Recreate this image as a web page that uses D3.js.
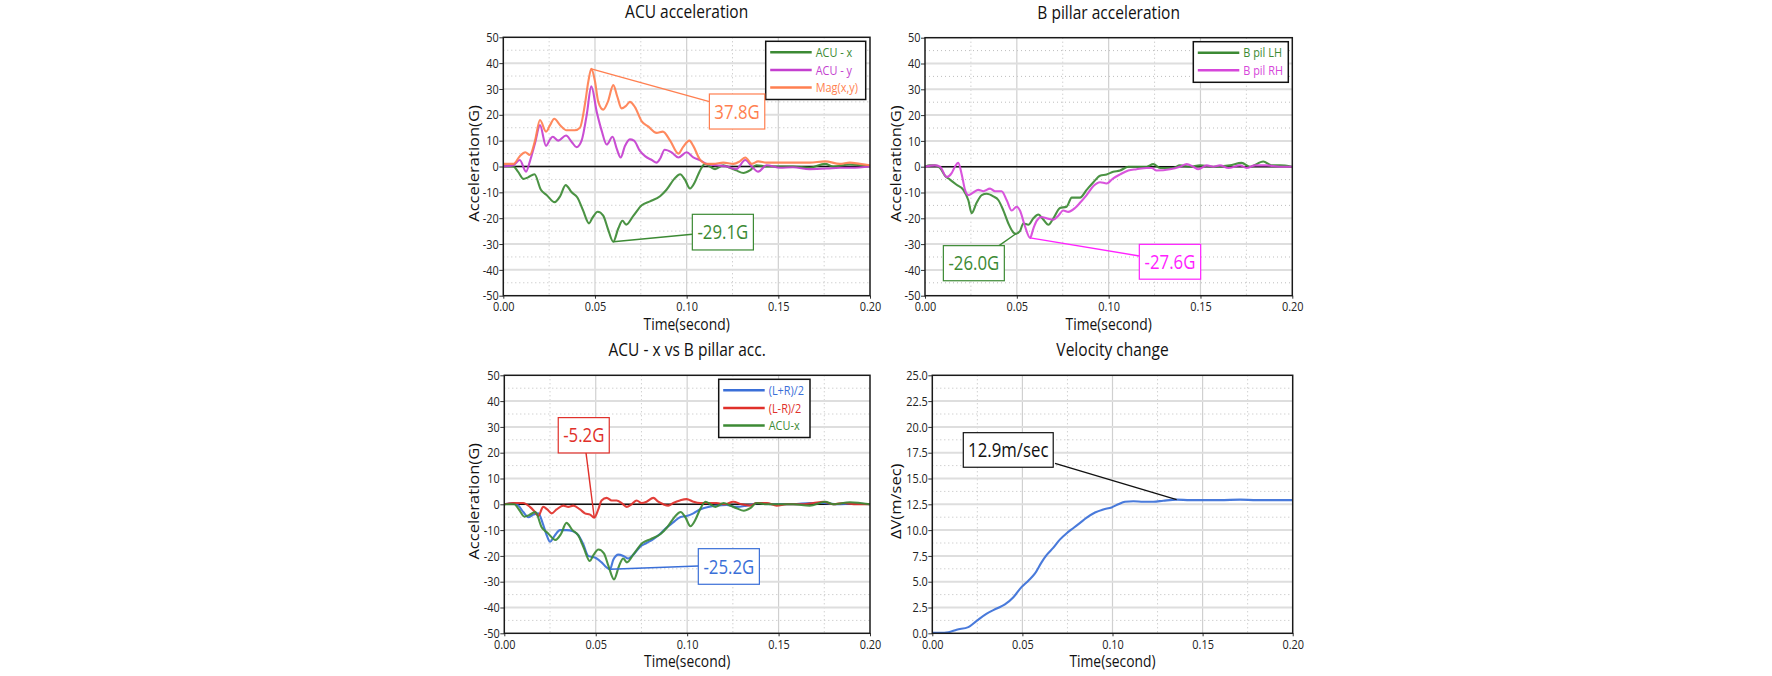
<!DOCTYPE html>
<html><head><meta charset="utf-8">
<script src="https://cdn.jsdelivr.net/npm/d3@7"></script>
<style>body{margin:0;background:#fff}svg{display:block}text{font-family:"Open Sans",sans-serif}</style>
</head><body><svg id="c" width="1772" height="676"></svg>
<script>
// ---------- data ----------
const timeTicks = [0, 0.05, 0.10, 0.15, 0.20];
const accTicks = [-50,-40,-30,-20,-10,0,10,20,30,40,50];
const dvTicks = [0,2.5,5,7.5,10,12.5,15,17.5,20,22.5,25];

const acuX = [[0,0],[0.0055,0],[0.008,-2],[0.011,-4.8],[0.0135,-4.2],[0.017,-3],[0.0205,-9],[0.0236,-11],[0.028,-13.8],[0.031,-11.5],[0.034,-7.2],[0.0373,-10],[0.0404,-12],[0.0435,-17],[0.0468,-22],[0.0485,-20],[0.0515,-17.5],[0.0545,-19],[0.057,-24],[0.060,-29.1],[0.0627,-24],[0.065,-21],[0.067,-22.5],[0.071,-19],[0.0755,-15],[0.08,-13.5],[0.0855,-11.5],[0.089,-9],[0.0936,-4.5],[0.0964,-3],[0.099,-5],[0.1018,-8.5],[0.1045,-6],[0.107,-2],[0.11,1],[0.1127,0],[0.1155,-1],[0.12,0.5],[0.1236,-0.5],[0.127,-1.5],[0.131,-2.5],[0.1345,-1.5],[0.138,0.5],[0.1436,0],[0.151,0],[0.158,0],[0.167,-0.5],[0.1755,1],[0.18,0],[0.189,0.8],[0.2,0]];
const acuY = [[0,0],[0.0055,0.5],[0.009,2.5],[0.0124,-2],[0.0145,2],[0.0173,9],[0.02,16],[0.0233,8],[0.0255,10.5],[0.027,11.5],[0.030,10],[0.0342,12],[0.0373,9.5],[0.040,7.5],[0.0427,10],[0.0455,20],[0.048,31],[0.051,21],[0.0536,14],[0.0564,8.5],[0.0596,11.5],[0.0618,7],[0.064,3.5],[0.0664,8],[0.069,10.5],[0.0713,10],[0.0745,6],[0.0773,4],[0.081,2.5],[0.0836,1.5],[0.0855,3],[0.088,6.5],[0.0918,5.5],[0.0955,3.5],[0.1,5.5],[0.1036,3.5],[0.107,2.5],[0.111,1],[0.1164,0.5],[0.122,0],[0.127,-1],[0.132,2.5],[0.1355,0],[0.139,-2],[0.1436,0.5],[0.151,-0.5],[0.158,-0.3],[0.167,-1],[0.1764,-0.8],[0.1836,-0.5],[0.19,-0.5],[0.2,0]];
const magXY = [[0,1],[0.0055,1],[0.009,4],[0.012,5.5],[0.0145,4.5],[0.0173,10],[0.02,18],[0.0233,13.5],[0.0255,16],[0.0278,18.5],[0.031,16],[0.0345,14],[0.039,14],[0.0418,15],[0.0445,24],[0.0464,33],[0.048,37.8],[0.05,33],[0.0518,25],[0.0545,22],[0.057,25],[0.06,31.5],[0.0622,27],[0.0645,22.5],[0.067,23.5],[0.069,25],[0.0718,23],[0.0755,17.5],[0.079,15.5],[0.0836,13],[0.087,13.5],[0.091,10],[0.0955,5],[0.098,7.5],[0.1015,10],[0.1036,8],[0.107,3],[0.111,1],[0.1145,1],[0.12,1.5],[0.1255,1],[0.129,2],[0.132,3.5],[0.1355,1],[0.139,2],[0.1436,1.5],[0.151,1.5],[0.158,1.5],[0.167,1.5],[0.1755,2],[0.1836,1],[0.189,1.5],[0.1945,1],[0.2,0.5]];
const bpLH = [[0,0],[0.0027,0.5],[0.0054,0.5],[0.0082,-0.5],[0.0109,-3.5],[0.0136,-5],[0.0172,-7],[0.0209,-9],[0.0236,-13],[0.0254,-18],[0.0281,-14],[0.0309,-11],[0.0336,-10.5],[0.0372,-11.5],[0.04,-13],[0.0427,-17],[0.0454,-22],[0.0481,-25.5],[0.0495,-26],[0.0517,-25],[0.0535,-22],[0.0563,-22.5],[0.059,-20],[0.0617,-18.5],[0.0644,-20.5],[0.0672,-22.5],[0.0699,-20],[0.0735,-16],[0.0771,-15.5],[0.0799,-12],[0.0844,-12],[0.088,-9],[0.0917,-6],[0.0953,-3.5],[0.0989,-3],[0.1025,-2],[0.1062,-1.5],[0.1107,0],[0.1152,0],[0.1207,0],[0.1243,1],[0.128,-0.5],[0.1352,-0.5],[0.1388,0.5],[0.1443,0],[0.1497,0.5],[0.157,0],[0.166,0.5],[0.1724,1.5],[0.177,0],[0.1842,2],[0.1887,0.5],[0.1933,0.5],[0.2,0]];
const bpRH = [[0,0],[0.0054,0.5],[0.0082,0],[0.0118,-4],[0.0145,-2.5],[0.0163,0],[0.0181,1.5],[0.02,-3],[0.0218,-9],[0.0236,-11],[0.0263,-10],[0.029,-9],[0.0318,-9.5],[0.0354,-8.5],[0.0381,-9.5],[0.0417,-9.5],[0.0445,-13],[0.0472,-17],[0.0499,-15.5],[0.0517,-17],[0.0544,-23],[0.0572,-27.6],[0.059,-24],[0.0608,-21],[0.0635,-19.5],[0.0662,-20],[0.0699,-20.5],[0.0726,-19],[0.0753,-17],[0.078,-17.5],[0.0817,-16],[0.0844,-14],[0.088,-11],[0.0917,-7.5],[0.0953,-6],[0.0989,-6.5],[0.1025,-4.5],[0.1062,-3],[0.1107,-1.5],[0.1152,-1],[0.1207,-0.5],[0.1234,-0.5],[0.1261,-1.5],[0.1334,-1],[0.1388,0],[0.1425,1],[0.1461,0],[0.1488,-1],[0.1534,0.5],[0.157,0],[0.1606,0.5],[0.1652,-0.5],[0.1715,0.5],[0.1751,-0.5],[0.1797,0.5],[0.186,0.5],[0.1933,0],[0.2,0]];
const lPlusR = [[0,0],[0.0049,0.5],[0.0077,-0.5],[0.0104,-3],[0.0131,-5],[0.0159,-4],[0.0186,-3.5],[0.0213,-8],[0.0232,-12],[0.025,-14.5],[0.0277,-12],[0.0304,-10],[0.0341,-10],[0.0377,-10.5],[0.0405,-12],[0.0432,-15.5],[0.0459,-20],[0.0487,-20.5],[0.0505,-21],[0.0532,-22.5],[0.056,-24.5],[0.0578,-25.2],[0.0596,-21.5],[0.0624,-19.5],[0.0651,-20],[0.0678,-21],[0.0706,-19.5],[0.0742,-16.5],[0.0778,-15],[0.0815,-13.5],[0.0851,-11.5],[0.0888,-9],[0.0924,-7],[0.0961,-5],[0.0997,-4.5],[0.1034,-3.5],[0.107,-2],[0.1116,-1],[0.1161,-0.5],[0.1216,-0.3],[0.1271,-1],[0.1325,-0.5],[0.1398,0.5],[0.1471,0],[0.158,0],[0.1672,0.5],[0.1745,0.5],[0.1818,0],[0.1909,0.3],[0.2,0]];
const lMinusR = [[0,0],[0.0049,0.5],[0.0104,0.5],[0.014,-1],[0.0168,-3],[0.0186,-4.5],[0.0213,-1],[0.0235,-2],[0.0259,-3.5],[0.0286,-2],[0.0323,-0.5],[0.035,-1],[0.0377,-0.5],[0.0414,-2],[0.0441,-3.5],[0.0469,-4],[0.0492,-5.2],[0.0514,-2],[0.0532,1.5],[0.056,2.5],[0.0587,1.5],[0.0614,1.5],[0.0642,0.5],[0.0669,-1],[0.0696,0],[0.0724,1.5],[0.0751,0.5],[0.0778,1],[0.0815,2.5],[0.0842,1],[0.087,0],[0.0897,-0.5],[0.0924,0.5],[0.0961,1.5],[0.0997,2],[0.1034,1],[0.107,0.5],[0.1116,0.5],[0.1161,0.5],[0.1207,0],[0.1252,1],[0.1298,0],[0.1344,-0.5],[0.138,0.5],[0.1435,0.5],[0.149,-0.5],[0.1544,0],[0.1617,0],[0.169,0.5],[0.1745,1],[0.18,0],[0.1854,0.5],[0.1927,0],[0.2,0]];
const deltaV = [[0,0.05],[0.0043,0.05],[0.0089,0.1],[0.0135,0.35],[0.02,0.6],[0.0246,1.2],[0.0302,1.9],[0.0357,2.4],[0.0403,2.8],[0.045,3.5],[0.0496,4.5],[0.0533,5.1],[0.057,5.8],[0.0607,6.9],[0.0635,7.6],[0.0672,8.3],[0.0709,9.1],[0.0746,9.7],[0.0783,10.2],[0.082,10.7],[0.0857,11.2],[0.0903,11.7],[0.0949,12.0],[0.0995,12.2],[0.1032,12.5],[0.1069,12.75],[0.1116,12.8],[0.1171,12.75],[0.1227,12.75],[0.1282,12.85],[0.1356,12.95],[0.143,12.9],[0.1504,12.9],[0.1597,12.9],[0.1708,12.95],[0.18,12.9],[0.1893,12.9],[0.2,12.9]];

// ---------- layout / style ----------
const K = 0.84; // horizontal glyph compression
const C = {green:"#3c8a34", purple:"#c43fcf", coral:"#ff7f50", magenta:"#d646da", pink:"#ff22ff",
           blue:"#3a6fd8", red:"#e0302a"};
const fmtAcc = v => String(v);
const fmtDv = v => v.toFixed(1);
const fmtT = v => v.toFixed(2);

const panels = [
 {left:503.3,right:870,top:37.3,bottom:295.7, yDomain:[-50,50], yTicks:accTicks, yFmt:fmtAcc, zero:true,
  title:"ACU acceleration", ylabel:"Acceleration(G)", ylabOff:24.5,
  series:[{name:"ACU - x",data:acuX,color:C.green},{name:"ACU - y",data:acuY,color:C.purple},{name:"Mag(x,y)",data:magXY,color:C.coral}],
  legend:{right:4.3,w:100},
  notes:[{text:"37.8G",color:C.coral,tcolor:C.coral,box:[0.1124,28.06,0.1426,14.5],from:[0.048,37.8],to:[0.1124,25.1]},
         {text:"-29.1G",color:C.green,tcolor:C.green,box:[0.1031,-18.5,0.1364,-32.3],from:[0.060,-29.1],to:[0.1031,-26.2]}]},
 {left:925,right:1292.3,top:37.7,bottom:295.7, yDomain:[-50,50], yTicks:accTicks, yFmt:fmtAcc, zero:true,
  title:"B pillar acceleration", ylabel:"Acceleration(G)", ylabOff:24.5,
  series:[{name:"B pil LH",data:bpLH,color:C.green},{name:"B pil RH",data:bpRH,color:C.magenta}],
  legend:{right:4,w:95},
  notes:[{text:"-26.0G",color:C.green,tcolor:C.green,box:[0.010,-30.6,0.0432,-44.2],from:[0.0495,-26],to:[0.0403,-30.6]},
         {text:"-27.6G",color:C.pink,tcolor:C.pink,box:[0.1167,-30.1,0.1501,-43.6],from:[0.0572,-27.6],to:[0.1167,-34.6]}]},
 {left:504.3,right:870,top:375.3,bottom:633.3, yDomain:[-50,50], yTicks:accTicks, yFmt:fmtAcc, zero:true,
  title:"ACU - x vs B pillar acc.", ylabel:"Acceleration(G)", ylabOff:25,
  series:[{name:"(L+R)/2",data:lPlusR,color:C.blue},{name:"(L-R)/2",data:lMinusR,color:C.red},{name:"ACU-x",data:acuX,color:C.green}],
  legend:{right:60,w:91.3},
  notes:[{text:"-5.2G",color:C.red,tcolor:C.red,box:[0.0295,33.6,0.0574,19.9],from:[0.0492,-5.2],to:[0.0447,19.9]},
         {text:"-25.2G",color:C.blue,tcolor:C.blue,box:[0.1061,-17.2,0.1395,-31.0],from:[0.0578,-25.2],to:[0.1061,-23.9]}]},
 {left:932.3,right:1292.7,top:375.3,bottom:633.3, yDomain:[0,25], yTicks:dvTicks, yFmt:fmtDv, zero:false,
  title:"Velocity change", ylabel:"\u0394V(m/sec)", ylabOff:31.5,
  series:[{name:"dV",data:deltaV,color:C.blue}],
  legend:null,
  notes:[{text:"12.9m/sec",color:"#111",tcolor:"#111",box:[0.0172,19.44,0.0671,16.09],from:[0.1356,12.95],to:[0.0681,16.47]}]}
];

const svg = d3.select("#c");

function sText(g, x, y, str, size, anchor, fill) {
  return g.append("text").attr("transform", `translate(${x},${y}) scale(${K},1)`)
    .attr("text-anchor", anchor).attr("font-size", size).attr("fill", fill).text(str);
}

panels.forEach(p => {
  const x = d3.scaleLinear().domain([0, 0.2]).range([p.left, p.right]);
  const y = d3.scaleLinear().domain(p.yDomain).range([p.bottom, p.top]);
  const g = svg.append("g");

  // grid
  const minorT = timeTicks.slice(0, -1).map((v, i) => (v + timeTicks[i + 1]) / 2);
  const minorY = p.yTicks.slice(0, -1).map((v, i) => (v + p.yTicks[i + 1]) / 2);
  const grid = g.append("g");
  grid.selectAll(".mx").data(minorT).join("line")
    .attr("x1", d => x(d)).attr("x2", d => x(d)).attr("y1", p.top).attr("y2", p.bottom)
    .attr("stroke", "#bdbdbd").attr("stroke-width", 1).attr("stroke-dasharray", "1,3");
  grid.selectAll(".my").data(minorY).join("line")
    .attr("y1", d => y(d)).attr("y2", d => y(d)).attr("x1", p.left).attr("x2", p.right)
    .attr("stroke", "#bdbdbd").attr("stroke-width", 1).attr("stroke-dasharray", "1,3");
  grid.selectAll(".Mx").data(timeTicks.slice(1, -1)).join("line")
    .attr("x1", d => x(d)).attr("x2", d => x(d)).attr("y1", p.top).attr("y2", p.bottom)
    .attr("stroke", "#d0d0d0").attr("stroke-width", 1.2);
  grid.selectAll(".My").data(p.yTicks.slice(1, -1)).join("line")
    .attr("y1", d => y(d)).attr("y2", d => y(d)).attr("x1", p.left).attr("x2", p.right)
    .attr("stroke", "#dedede").attr("stroke-width", 2);

  if (p.zero) {
    g.append("line").attr("x1", p.left).attr("x2", p.right).attr("y1", y(0)).attr("y2", y(0))
      .attr("stroke", "#111").attr("stroke-width", 1.5);
  }

  // axes
  const ax = g.append("g").attr("transform", `translate(0,${p.bottom})`)
    .call(d3.axisBottom(x).tickValues(timeTicks).tickFormat(fmtT).tickSize(3).tickPadding(3));
  const ay = g.append("g").attr("transform", `translate(${p.left},0)`)
    .call(d3.axisLeft(y).tickValues(p.yTicks).tickFormat(p.yFmt).tickSize(4).tickPadding(0.5));
  [ax, ay].forEach(a => {
    a.select(".domain").remove();
    a.selectAll(".tick line").attr("stroke", "#333");
    a.selectAll(".tick text").attr("font-size", 13).attr("fill", "#222")
      .attr("font-family", '"Open Sans",sans-serif')
      .each(function () {
        const t = d3.select(this);
        const xv = +t.attr("x") || 0;
        t.attr("x", xv / K).attr("transform", `scale(${K},1)`);
      });
  });

  // series
  const line = d3.line().x(d => x(d[0])).y(d => y(d[1])).curve(d3.curveMonotoneX);
  p.series.forEach(s => {
    g.append("path").datum(s.data).attr("d", line).attr("fill", "none")
      .attr("stroke", s.color).attr("stroke-width", 2.1).attr("stroke-linejoin", "round").attr("opacity", 0.92);
  });

  // frame
  g.append("rect").attr("x", p.left).attr("y", p.top).attr("width", p.right - p.left).attr("height", p.bottom - p.top)
    .attr("fill", "none").attr("stroke", "#1a1a1a").attr("stroke-width", 1.5);

  // legend
  if (p.legend) {
    const lw = p.legend.w, lh = 11 + 17.6 * (p.series.length - 1) + 12;
    const lx = p.right - p.legend.right - lw, ly = p.top + 4;
    const lg = g.append("g");
    lg.append("rect").attr("x", lx).attr("y", ly).attr("width", lw).attr("height", lh)
      .attr("fill", "#fff").attr("stroke", "#111").attr("stroke-width", 1.5);
    p.series.forEach((s, i) => {
      const ry = ly + 11 + 17.6 * i;
      lg.append("line").attr("x1", lx + 4.5).attr("x2", lx + 46).attr("y1", ry).attr("y2", ry)
        .attr("stroke", s.color).attr("stroke-width", 2.5);
      sText(lg, lx + 50, ry + 4.6, s.name, 13, "start", s.color);
    });
  }

  // annotations
  p.notes.forEach(n => {
    g.append("line").attr("x1", x(n.from[0])).attr("y1", y(n.from[1])).attr("x2", x(n.to[0])).attr("y2", y(n.to[1]))
      .attr("stroke", n.color).attr("stroke-width", 1.4);
    const bx0 = x(n.box[0]), by0 = y(n.box[1]), bx1 = x(n.box[2]), by1 = y(n.box[3]);
    g.append("rect").attr("x", bx0).attr("y", by0).attr("width", bx1 - bx0).attr("height", by1 - by0)
      .attr("fill", "#fff").attr("stroke", n.color).attr("stroke-width", 1.2);
    sText(g, (bx0 + bx1) / 2, (by0 + by1) / 2 + 7.2, n.text, 20, "middle", n.tcolor);
  });

  // titles
  sText(g, (p.left + p.right) / 2, p.top - 19, p.title, 18.5, "middle", "#111");
  sText(g, (p.left + p.right) / 2, p.bottom + 34, "Time(second)", 16.5, "middle", "#111");
  const cy = (p.top + p.bottom) / 2 - 3;
  g.append("text").attr("transform", `translate(${p.left - p.ylabOff},${cy}) scale(${K},1) rotate(-90)`)
    .attr("text-anchor", "middle").attr("font-size", 16.5).attr("fill", "#111").text(p.ylabel);
});
</script></body></html>
